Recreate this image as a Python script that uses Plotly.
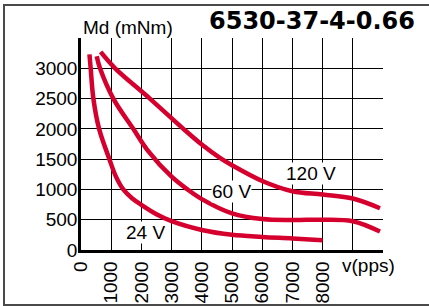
import plotly.graph_objects as go

# Data
v24_x = [280, 320, 410, 600, 940, 1150, 1400, 1700, 2000, 2500, 3000, 4000, 5000, 6000, 7000, 8000]
v24_y = [3230, 3000, 2500, 2000, 1500, 1220, 1000, 850, 745, 590, 475, 330, 250, 215, 190, 160]

v60_x = [520, 630, 1070, 1730, 2200, 3000, 3500, 4000, 5000, 6000, 7000, 8000, 9000, 9900]
v60_y = [3200, 3000, 2500, 2000, 1650, 1210, 1010, 840, 605, 510, 495, 500, 475, 305]

v120_x = [650, 1130, 2280, 3390, 4000, 4600, 5000, 6000, 7000, 8000, 9000, 9900]
v120_y = [3270, 3000, 2500, 2000, 1740, 1520, 1400, 1140, 970, 915, 850, 690]

x_ticks = list(range(0, 10001, 1000))
x_ticktext = [str(v) if v <= 8000 else "" for v in x_ticks]
y_ticks = list(range(0, 3501, 500))
y_ticktext = [str(v) if v <= 3000 else "" for v in y_ticks]

curve_labels = ["24 V", "60 V", "120 V"]
label_x = [2150, 4990, 7600]
label_y = [290, 963, 1271]

title_text = "6530-37-4-0.66"
y_title = "Md (mNm)"
x_title = "v(pps)"

RED = "#D5002E"
FONT = "Liberation Sans, Arial, sans-serif"

fig = go.Figure()
for xs, ys in [(v24_x, v24_y), (v60_x, v60_y), (v120_x, v120_y)]:
    fig.add_trace(go.Scatter(x=xs, y=ys, mode="lines",
                             line=dict(color=RED, width=4.5, shape="spline", smoothing=1.0),
                             showlegend=False, hoverinfo="skip"))

W, H = 429, 306
L, R, T, B = 81, 46, 38, 56
pw, ph = W - L - R, H - T - B

axis_common = dict(showgrid=True, gridcolor="black", gridwidth=1, zeroline=False,
                   showline=True, linecolor="black", linewidth=2.5,
                   automargin=False, ticks="",
                   tickfont=dict(family=FONT, size=19, color="black"))

fig.update_layout(
    width=W, height=H,
    margin=dict(l=L, r=R, t=T, b=B, pad=0, autoexpand=False),
    paper_bgcolor="white", plot_bgcolor="white",
    font=dict(family=FONT, size=19, color="black"),
    xaxis=dict(range=[0, 10000], tickvals=x_ticks, ticktext=x_ticktext, tickangle=-90,
               ticklabelstandoff=1, **axis_common),
    yaxis=dict(range=[0, 3500], tickvals=y_ticks, ticktext=y_ticktext,
               ticklabelstandoff=-3, **axis_common),
)

# labels on curves (white background boxes)
for t, x, y in zip(curve_labels, label_x, label_y):
    fig.add_annotation(x=x, y=y, xref="x", yref="y", text=t, showarrow=False,
                       bgcolor="white", borderpad=0,
                       font=dict(family=FONT, size=19, color="black"))

def px_x(p):
    return (p - L) / pw

def px_y(p):
    return (H - B - p) / ph

fig.add_annotation(x=px_x(81), y=px_y(27), xref="paper", yref="paper", text=y_title,
                   showarrow=False, xanchor="left", yanchor="middle",
                   font=dict(family=FONT, size=19, color="black"))
fig.add_annotation(x=px_x(340), y=px_y(265), xref="paper", yref="paper", text=x_title,
                   showarrow=False, xanchor="left", yanchor="middle",
                   font=dict(family=FONT, size=19, color="black"))
fig.add_annotation(x=px_x(417), y=px_y(21), xref="paper", yref="paper",
                   text="<b>" + title_text + "</b>",
                   showarrow=False, xanchor="right", yanchor="middle",
                   font=dict(family="DejaVu Sans, sans-serif", size=24, color="black"))

# outer gray frame
fig.add_shape(type="rect", xref="paper", yref="paper",
              x0=px_x(4), x1=px_x(440), y0=px_y(305), y1=px_y(5),
              line=dict(color="#4a4a4a", width=2), layer="above")

fig.write_html("out.html", config={"displayModeBar": False},
               post_script="document.body.style.margin='0';document.body.style.overflow='hidden';")
